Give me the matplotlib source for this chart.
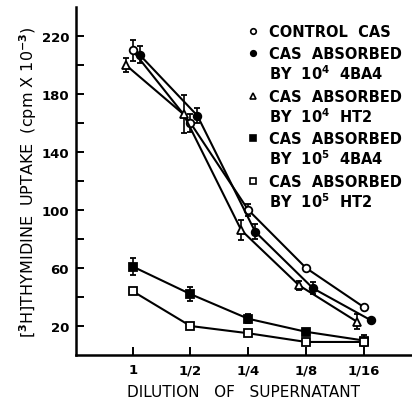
import numpy as np
import matplotlib
matplotlib.use("Agg")
import matplotlib.pyplot as plt

plt.rcParams["font.family"] = ["DejaVu Sans"]
plt.rcParams["font.weight"] = "bold"
plt.rcParams["mathtext.fontset"] = "dejavusans"
plt.rcParams["mathtext.default"] = "bf"

# data
dilutions = ["1", "1/2", "1/4", "1/8", "1/16"]
control = [210, 160, 100, 60, 33]
control_err = [7, 6, 4, 0, 0]
abs4_4ba4 = [207, 165, 85, 46, 24]
abs4_4ba4_err = [6, 5, 5, 4, 0]
abs4_ht2 = [200, 166, 86, 48, 23]
abs4_ht2_err = [5, 13, 7, 3, 5]
abs5_4ba4 = [61, 42, 25, 16, 10]
abs5_4ba4_err = [6, 5, 3, 2, 4]
abs5_ht2 = [44, 20, 15, 9, 9]
abs5_ht2_err = [0, 0, 0, 0, 0]

labels = [["CONTROL  CAS"],
          ["CAS  ABSORBED", "BY  10$^4$  4BA4"],
          ["CAS  ABSORBED", "BY  10$^4$  HT2"],
          ["CAS  ABSORBED", "BY  10$^5$  4BA4"],
          ["CAS  ABSORBED", "BY  10$^5$  HT2"]]

series = [
    (control, control_err, "o", "white", 0.0),
    (abs4_4ba4, abs4_4ba4_err, "o", "black", 0.12),
    (abs4_ht2, abs4_ht2_err, "^", "white", -0.12),
    (abs5_4ba4, abs5_4ba4_err, "s", "black", 0.0),
    (abs5_ht2, abs5_ht2_err, "s", "white", 0.0),
]

fig = plt.figure(figsize=(4.12, 4.02), dpi=100)
ax = fig.add_axes([0.1845, 0.1144, 0.815, 0.866])

x = np.arange(len(dilutions))
for vals, err, m, fc, dx in series:
    ax.errorbar(x + dx, vals, yerr=err, fmt="-", marker=m, color="black",
                mfc=fc, mec="black", ms=5.5, mew=1.3, lw=1.5,
                elinewidth=1.2, capsize=2.5, capthick=1.2)

ax.set_xlim(-0.98, 4.83)
ax.set_ylim(0, 240)
ax.set_xticks(x)
ax.set_xticklabels(dilutions)
ax.set_yticks(np.arange(20, 221, 40))
ax.set_yticks(np.arange(40, 201, 40), minor=True)
ax.tick_params(axis="both", which="both", direction="in", length=6, width=1.4,
               labelsize=9.5)
ax.tick_params(axis="y", pad=5)
ax.tick_params(axis="x", pad=6)
for s in ["top", "right"]:
    ax.spines[s].set_visible(False)
for s in ["left", "bottom"]:
    ax.spines[s].set_linewidth(1.8)

ax.set_xlabel("DILUTION   OF   SUPERNATANT", fontsize=11, fontweight="normal",
              va="center")
ax.xaxis.set_label_coords(0.5, -0.106)
ax.set_ylabel("[$^3$H]THYMIDINE  UPTAKE  (cpm X 10$^{-3}$)", fontsize=11.5,
              va="center")
ax.yaxis.set_label_coords(-0.143, 0.5)

# hand-drawn style key
row_y = [0.931, 0.868, 0.744, 0.623, 0.5]
step = 0.061
for (vals, err, m, fc, dx), lines, yy in zip(series, labels, row_y):
    ax.plot([0.527], [yy], transform=ax.transAxes, marker=m, color="black",
            mfc=fc, mec="black", ms=4, mew=1.2, clip_on=False)
    for k, line in enumerate(lines):
        ax.text(0.574, yy - k * step - 0.0145, line, transform=ax.transAxes,
                fontsize=10.5, va="baseline", ha="left")

fig.savefig("out.png", dpi=100)
